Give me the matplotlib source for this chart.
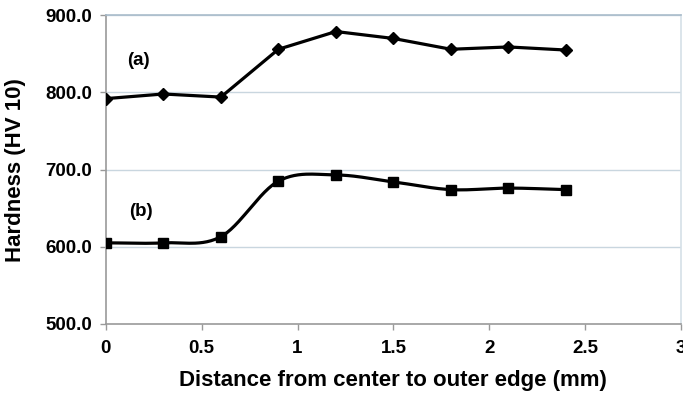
import numpy as np
import matplotlib.pyplot as plt

plt.rcParams['font.family'] = ['Liberation Sans', 'DejaVu Sans']
plt.rcParams['font.weight'] = 'bold'
plt.rcParams['axes.labelweight'] = 'bold'

# ---------------------------------------------------------------- data
distance = [0, 0.3, 0.6, 0.9, 1.2, 1.5, 1.8, 2.1, 2.4]
hardness_a = [792, 798, 794, 856, 879, 870, 856, 859, 855]
hardness_b = [605, 605, 613, 685, 693, 684, 674, 676, 674]
y_ticks = [500, 600, 700, 800, 900]
x_ticks = [0, 0.5, 1, 1.5, 2, 2.5, 3]

GRID = '#c9d6df'
AXIS = '#999999'


def catmull_rom(x, y, n=30):
    """Smoothed line like the spreadsheet 'smoothed line' option."""
    x = np.asarray(x, float)
    y = np.asarray(y, float)
    px = np.concatenate([[2 * x[0] - x[1]], x, [2 * x[-1] - x[-2]]])
    py = np.concatenate([[2 * y[0] - y[1]], y, [2 * y[-1] - y[-2]]])
    xs, ys = [], []
    t = np.linspace(0, 1, n)
    for i in range(1, len(px) - 2):
        for P, out in ((px[i - 1:i + 3], xs), (py[i - 1:i + 3], ys)):
            a, b, c, d = P
            out.extend(0.5 * (2 * b + (-a + c) * t + (2 * a - 5 * b + 4 * c - d) * t ** 2
                              + (-a + 3 * b - 3 * c + d) * t ** 3))
    return np.array(xs), np.array(ys)


fig = plt.figure(figsize=(6.83, 3.93), dpi=100)
ax = fig.add_axes([0.155, 0.176, 0.842, 0.785])

for v in y_ticks[1:]:
    ax.axhline(v, color=GRID, linewidth=1, zorder=0)

ax.plot(distance, hardness_a, color='black', linewidth=2.3,
        marker='D', markersize=6.5, zorder=3)
sx, sy = catmull_rom(distance, hardness_b)
ax.plot(sx, sy, color='black', linewidth=2.3, zorder=3)
ax.plot(distance, hardness_b, linestyle='none', color='black',
        marker='s', markersize=7.5, zorder=4)

ax.text(0.11, 842, '(a)', fontsize=13.5, ha='left', va='center')
ax.text(0.12, 645, '(b)', fontsize=13.5, ha='left', va='center')

ax.set_xlim(0, 3)
ax.set_ylim(500, 900)
ax.set_xticks(x_ticks)
ax.set_xticklabels(['0', '0.5', '1', '1.5', '2', '2.5', '3'])
ax.set_yticks(y_ticks)
ax.set_yticklabels([f'{v:.1f}' for v in y_ticks])
ax.tick_params(axis='both', labelsize=13.5, colors=AXIS, labelcolor='black',
               length=4, width=1, direction='out')
ax.tick_params(axis='y', pad=6)
ax.tick_params(axis='x', pad=8)

ax.spines['left'].set_color(AXIS)
ax.spines['bottom'].set_color(AXIS)
ax.spines['top'].set_color('#a9bccb')
ax.spines['right'].set_color('#d5e0e8')
for s in ax.spines.values():
    s.set_linewidth(1.2)

ax.set_xlabel('Distance from center to outer edge (mm)', fontsize=16, labelpad=9)
ax.set_ylabel('Hardness (HV 10)', fontsize=16, labelpad=14)

fig.savefig('out.png', dpi=100)
